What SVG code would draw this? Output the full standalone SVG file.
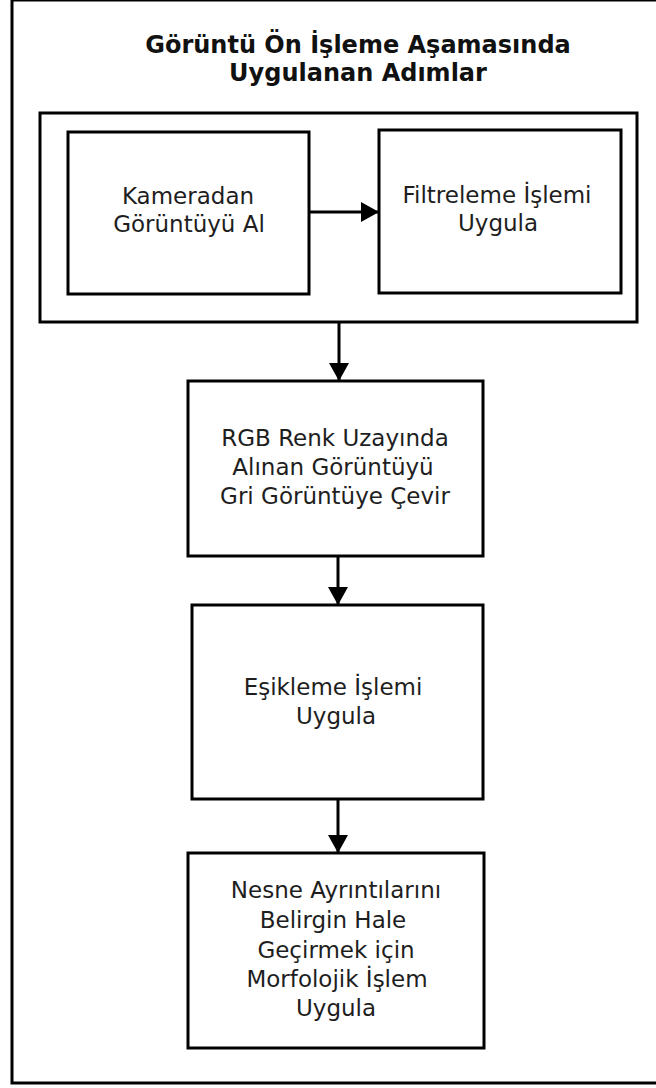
<svg xmlns="http://www.w3.org/2000/svg" width="656" height="1088" viewBox="0 0 656 1088">
<defs>
<marker id="ah" markerUnits="userSpaceOnUse" markerWidth="20" markerHeight="20" refX="18" refY="10" orient="auto">
<path d="M0,0 L18,10 L0,20 Z" fill="#000"/>
</marker>
<style>
.box{fill:#fff;stroke:#000;stroke-width:3}
.t{font-family:"DejaVu Sans",Verdana,sans-serif;font-size:23px;fill:#1e1e1e;text-anchor:middle}
.title{font-family:"DejaVu Sans",Verdana,sans-serif;font-size:24px;font-weight:bold;fill:#111;text-anchor:middle}
.c{stroke:#000;stroke-width:3;fill:none;marker-end:url(#ah)}
</style>
</defs>
<rect width="656" height="1088" fill="#fff"/>
<g id="frame">
<rect x="12" y="0" width="660" height="1083" fill="none" stroke="#000" stroke-width="3"/>
<text class="title" x="358" y="53">Görüntü Ön İşleme Aşamasında</text>
<text class="title" x="358" y="81">Uygulanan Adımlar</text>
</g>
<g id="container">
<rect class="box" x="40" y="113" width="597" height="209"/>
</g>
<g id="n1">
<rect class="box" x="68" y="132" width="241" height="162"/>
<text class="t" x="188" y="204">Kameradan</text>
<text class="t" x="189" y="232">Görüntüyü Al</text>
</g>
<g id="n2">
<rect class="box" x="379" y="130" width="242" height="163"/>
<text class="t" x="497" y="203">Filtreleme İşlemi</text>
<text class="t" x="498" y="231">Uygula</text>
</g>
<g id="n3">
<rect class="box" x="188" y="381" width="295" height="175"/>
<text class="t" x="335" y="446">RGB Renk Uzayında</text>
<text class="t" x="333" y="475">Alınan Görüntüyü</text>
<text class="t" x="335" y="504">Gri Görüntüye Çevir</text>
</g>
<g id="n4">
<rect class="box" x="192" y="605" width="291" height="194"/>
<text class="t" x="333" y="695">Eşikleme İşlemi</text>
<text class="t" x="336" y="724">Uygula</text>
</g>
<g id="n5">
<rect class="box" x="188" y="853" width="296" height="195"/>
<text class="t" x="336" y="898">Nesne Ayrıntılarını</text>
<text class="t" x="333" y="928">Belirgin Hale</text>
<text class="t" x="336" y="958">Geçirmek için</text>
<text class="t" x="337" y="987">Morfolojik İşlem</text>
<text class="t" x="336" y="1016">Uygula</text>
</g>
<g id="connectors">
<path class="c" d="M309,212 L379,212"/>
<path class="c" d="M339,323 L339,381"/>
<path class="c" d="M338,557 L338,605"/>
<path class="c" d="M338,800 L338,853"/>
</g>
</svg>
